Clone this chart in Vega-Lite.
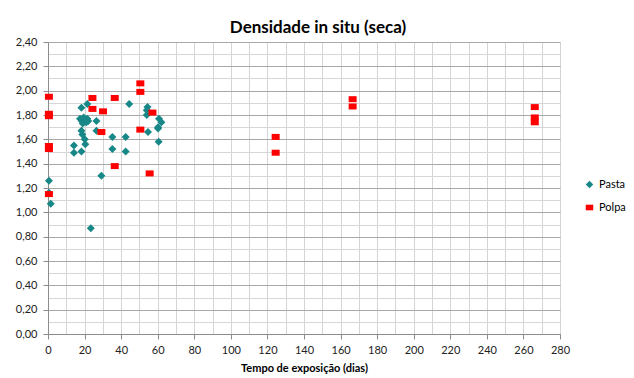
{
  "$schema": "https://vega.github.io/schema/vega-lite/v6.json",
  "autosize": "none",
  "width": 512,
  "height": 292,
  "padding": {"left": 48, "top": 42, "right": 74, "bottom": 44},
  "background": "white",
  "title": {
    "text": "Densidade in situ (seca)",
    "font": "Lato",
    "fontSize": 17,
    "fontWeight": "bold",
    "color": "#000000",
    "anchor": "middle",
    "baseline": "alphabetic",
    "offset": 10,
    "dx": 14,
    "dy": 24
  },
  "config": {
    "view": {"stroke": "#cfcfcf"},
    "font": "Lato"
  },
  "data": {
    "values": [
      {"dias": 0.5, "densidade": 1.26, "serie": "Pasta"},
      {"dias": 0.5, "densidade": 1.16, "serie": "Pasta"},
      {"dias": 1.5, "densidade": 1.07, "serie": "Pasta"},
      {"dias": 14.2, "densidade": 1.55, "serie": "Pasta"},
      {"dias": 14.2, "densidade": 1.49, "serie": "Pasta"},
      {"dias": 18.3, "densidade": 1.50, "serie": "Pasta"},
      {"dias": 20.4, "densidade": 1.56, "serie": "Pasta"},
      {"dias": 20.1, "densidade": 1.60, "serie": "Pasta"},
      {"dias": 18.8, "densidade": 1.64, "serie": "Pasta"},
      {"dias": 18.3, "densidade": 1.67, "serie": "Pasta"},
      {"dias": 18.3, "densidade": 1.86, "serie": "Pasta"},
      {"dias": 21.5, "densidade": 1.89, "serie": "Pasta"},
      {"dias": 17.5, "densidade": 1.77, "serie": "Pasta"},
      {"dias": 18.5, "densidade": 1.75, "serie": "Pasta"},
      {"dias": 19.5, "densidade": 1.78, "serie": "Pasta"},
      {"dias": 20.5, "densidade": 1.76, "serie": "Pasta"},
      {"dias": 21.5, "densidade": 1.77, "serie": "Pasta"},
      {"dias": 22.0, "densidade": 1.75, "serie": "Pasta"},
      {"dias": 19.0, "densidade": 1.73, "serie": "Pasta"},
      {"dias": 21.0, "densidade": 1.74, "serie": "Pasta"},
      {"dias": 23.4, "densidade": 0.87, "serie": "Pasta"},
      {"dias": 26.5, "densidade": 1.75, "serie": "Pasta"},
      {"dias": 26.5, "densidade": 1.67, "serie": "Pasta"},
      {"dias": 29.2, "densidade": 1.30, "serie": "Pasta"},
      {"dias": 35.2, "densidade": 1.62, "serie": "Pasta"},
      {"dias": 35.2, "densidade": 1.52, "serie": "Pasta"},
      {"dias": 42.5, "densidade": 1.62, "serie": "Pasta"},
      {"dias": 42.5, "densidade": 1.50, "serie": "Pasta"},
      {"dias": 44.4, "densidade": 1.89, "serie": "Pasta"},
      {"dias": 54.4, "densidade": 1.865, "serie": "Pasta"},
      {"dias": 54.0, "densidade": 1.84, "serie": "Pasta"},
      {"dias": 54.0, "densidade": 1.80, "serie": "Pasta"},
      {"dias": 54.7, "densidade": 1.66, "serie": "Pasta"},
      {"dias": 60.7, "densidade": 1.77, "serie": "Pasta"},
      {"dias": 62.0, "densidade": 1.74, "serie": "Pasta"},
      {"dias": 60.2, "densidade": 1.70, "serie": "Pasta"},
      {"dias": 60.2, "densidade": 1.69, "serie": "Pasta"},
      {"dias": 60.5, "densidade": 1.58, "serie": "Pasta"},
      {"dias": 0.5, "densidade": 1.95, "serie": "Polpa"},
      {"dias": 0.5, "densidade": 1.81, "serie": "Polpa"},
      {"dias": 0.5, "densidade": 1.79, "serie": "Polpa"},
      {"dias": 0.5, "densidade": 1.545, "serie": "Polpa"},
      {"dias": 0.5, "densidade": 1.52, "serie": "Polpa"},
      {"dias": 0.5, "densidade": 1.15, "serie": "Polpa"},
      {"dias": 24.3, "densidade": 1.94, "serie": "Polpa"},
      {"dias": 24.3, "densidade": 1.85, "serie": "Polpa"},
      {"dias": 30.1, "densidade": 1.83, "serie": "Polpa"},
      {"dias": 29.2, "densidade": 1.66, "serie": "Polpa"},
      {"dias": 36.5, "densidade": 1.94, "serie": "Polpa"},
      {"dias": 36.5, "densidade": 1.38, "serie": "Polpa"},
      {"dias": 50.5, "densidade": 2.06, "serie": "Polpa"},
      {"dias": 50.5, "densidade": 1.99, "serie": "Polpa"},
      {"dias": 50.5, "densidade": 1.68, "serie": "Polpa"},
      {"dias": 57.1, "densidade": 1.82, "serie": "Polpa"},
      {"dias": 55.6, "densidade": 1.32, "serie": "Polpa"},
      {"dias": 124.5, "densidade": 1.62, "serie": "Polpa"},
      {"dias": 124.5, "densidade": 1.49, "serie": "Polpa"},
      {"dias": 166.6, "densidade": 1.93, "serie": "Polpa"},
      {"dias": 166.6, "densidade": 1.87, "serie": "Polpa"},
      {"dias": 266.2, "densidade": 1.865, "serie": "Polpa"},
      {"dias": 266.2, "densidade": 1.78, "serie": "Polpa"},
      {"dias": 266.2, "densidade": 1.74, "serie": "Polpa"}
    ]
  },
  "mark": {"type": "point", "filled": true, "opacity": 1, "size": 64, "clip": false},
  "encoding": {
    "x": {
      "field": "dias",
      "type": "quantitative",
      "scale": {"domain": [0, 280], "nice": false, "zero": true},
      "axis": {
        "title": "Tempo de exposição  (dias)",
        "titleFont": "Lato",
        "titleFontSize": 11,
        "titleFontWeight": "bold",
        "titleColor": "#000000",
        "titlePadding": 7,
        "values": [0, 10, 20, 30, 40, 50, 60, 70, 80, 90, 100, 110, 120, 130, 140, 150, 160, 170, 180, 190, 200, 210, 220, 230, 240, 250, 260, 270, 280],
        "labelExpr": "datum.value % 20 === 0 ? datum.label : ''",
        "labelFont": "Lato",
        "labelFontSize": 11,
        "labelColor": "#222222",
        "labelPadding": 5,
        "labelFlush": false,
        "labelOverlap": false,
        "grid": true,
        "gridColor": "#d4d4d4",
        "gridWidth": 1,
        "domainColor": "#8c8c8c",
        "tickColor": "#8c8c8c",
        "tickSize": 5,
        "tickOpacity": {"condition": {"test": "datum.value % 20 === 0", "value": 1}, "value": 0}
      }
    },
    "y": {
      "field": "densidade",
      "type": "quantitative",
      "scale": {"domain": [0, 2.4], "nice": false, "zero": true},
      "axis": {
        "title": null,
        "values": [0, 0.1, 0.2, 0.3, 0.4, 0.5, 0.6, 0.7, 0.8, 0.9, 1.0, 1.1, 1.2, 1.3, 1.4, 1.5, 1.6, 1.7, 1.8, 1.9, 2.0, 2.1, 2.2, 2.3, 2.4],
        "labelExpr": "round(datum.value * 10) % 2 === 0 ? replace(format(datum.value, '.2f'), '.', ',') : ''",
        "labelFont": "Lato",
        "labelFontSize": 11,
        "labelColor": "#222222",
        "labelPadding": 6,
        "labelFlush": false,
        "labelOverlap": false,
        "grid": true,
        "gridColor": {"condition": {"test": "round(datum.value * 10) % 2 === 0", "value": "#a8a8a8"}, "value": "#d6d6d6"},
        "gridWidth": 1,
        "domainColor": "#8c8c8c",
        "tickColor": "#8c8c8c",
        "tickSize": 5,
        "tickOpacity": {"condition": {"test": "round(datum.value * 10) % 2 === 0", "value": 1}, "value": 0}
      }
    },
    "color": {
      "field": "serie",
      "type": "nominal",
      "scale": {"domain": ["Pasta", "Polpa"], "range": ["#178787", "#ff0000"]},
      "legend": {
        "title": null,
        "orient": "none",
        "legendX": 536,
        "legendY": 137,
        "padding": 0,
        "labelFont": "Lato",
        "labelFontSize": 11,
        "labelColor": "#000000",
        "labelOffset": 4,
        "rowPadding": 11,
        "symbolSize": 56,
        "symbolStrokeWidth": 0
      }
    },
    "shape": {
      "field": "serie",
      "type": "nominal",
      "scale": {"domain": ["Pasta", "Polpa"], "range": ["diamond", "M-1,-0.75L1,-0.75L1,0.75L-1,0.75Z"]}
    }
  }
}
